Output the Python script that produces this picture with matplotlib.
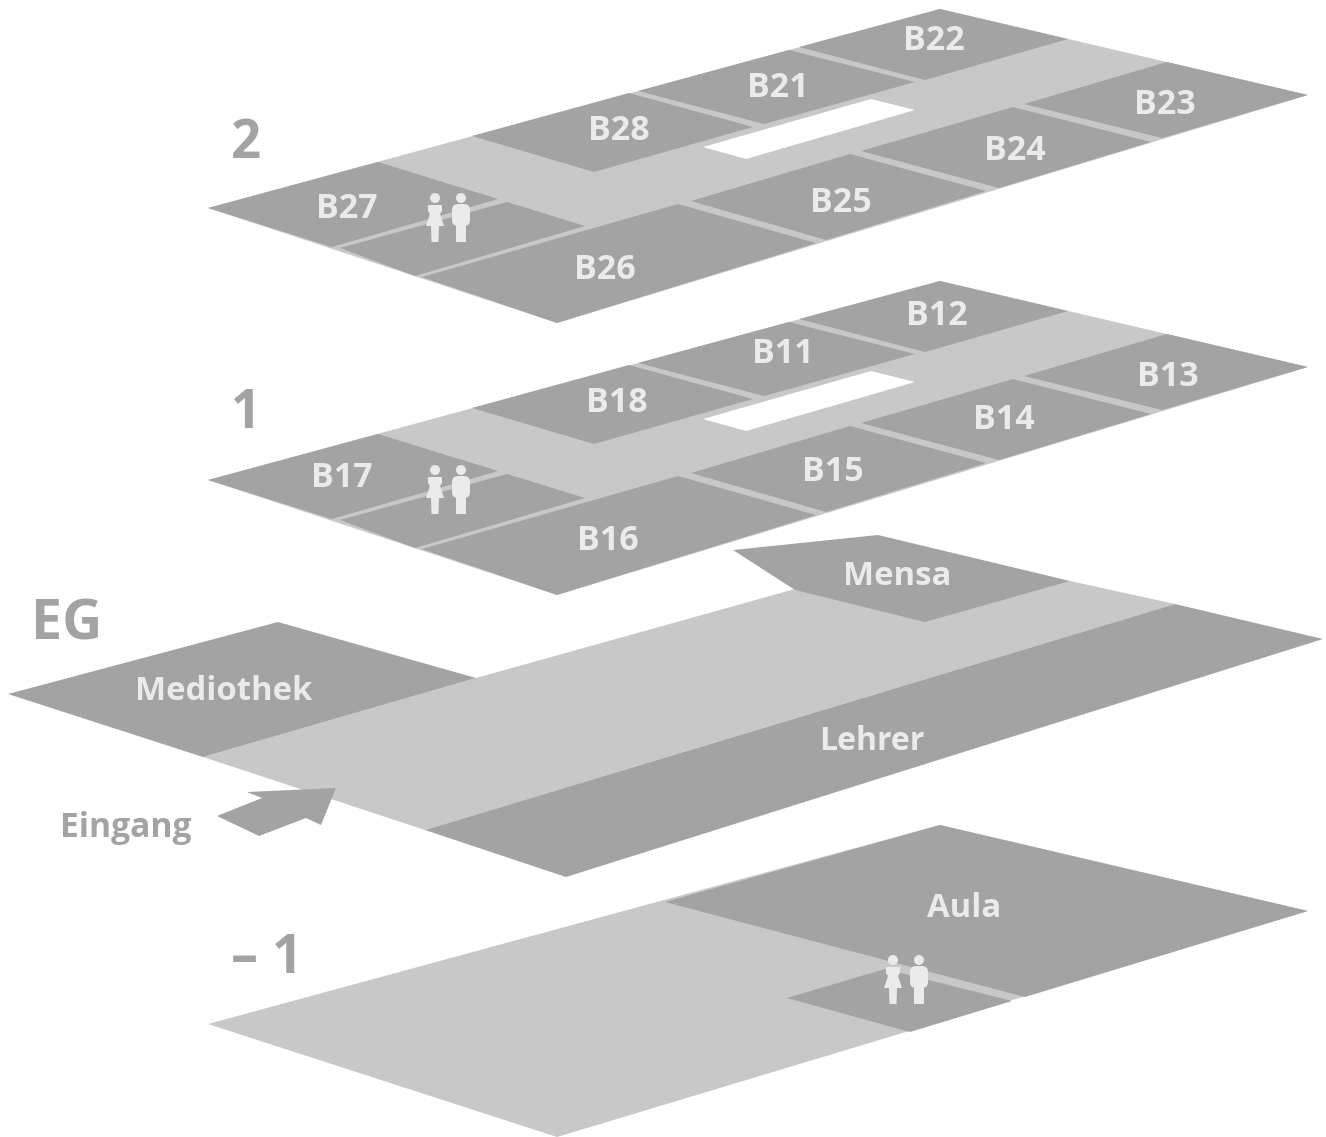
import matplotlib
matplotlib.use('Agg')
import matplotlib.pyplot as plt
from matplotlib.patches import Polygon, Circle, FancyBboxPatch

plt.rcParams['font.family'] = ['Open Sans', 'DejaVu Sans']

dark = '#a3a3a3'
light = '#c8c8c8'
pale = '#ebebeb'

# upper floors, pixel positions (floor 2, floor 1 is the same plan lower down)
outline_2 = [(208, 208), (940, 9), (1308, 95), (557, 323)]
hole_2 = [(703, 147), (871, 99), (915, 110), (746, 159)]
rooms_2 = [
    [(799, 47), (940, 9), (1068, 39), (925, 80)],          # B22
    [(638, 91), (789, 50), (915, 82), (764, 124)],         # B21
    [(472, 136), (629, 93), (753, 127), (594, 172)],       # B28
    [(1024, 104), (1167, 62), (1308, 95), (1162, 138)],    # B23
    [(861, 151), (1013, 107), (1151, 142), (999, 188)],    # B24
    [(691, 201), (850, 154), (986, 191), (826, 240)],      # B25
    [(422, 277), (678, 204), (816, 243), (557, 323)],      # B26
    [(208, 208), (378, 162), (498, 199), (332, 247)],      # B27
    [(340, 248), (507, 202), (585, 226), (415, 276)],      # WC
]
floor_1_shift = 272

# ground floor
outline_eg = [(203, 757), (476, 678), (795, 589), (1070, 581), (1175, 604), (425, 830)]
mediothek = [(8, 694), (278, 622), (476, 678), (203, 757)]
mensa = [(733, 550), (878, 535), (1070, 581), (925, 622), (795, 590)]
lehrer = [(425, 830), (1175, 604), (1323, 639), (566, 877)]
arrow = [(336, 788), (247, 792), (262, 798), (217, 816), (259, 836), (306, 818), (321, 825)]

# basement
outline_u1 = [(208, 1024), (940, 825), (1308, 911), (557, 1137)]
aula = [(665, 902), (940, 825), (1308, 911), (1025, 997)]
wc_u1 = [(787, 998), (885, 969), (1012, 1001), (910, 1032)]

# text, baseline positions
room_names = ['B22', 'B21', 'B28', 'B23', 'B24', 'B25', 'B26', 'B27',
              'B12', 'B11', 'B18', 'B13', 'B14', 'B15', 'B16', 'B17']
room_x = [934, 778, 619, 1165, 1015, 841, 605, 347,
          937, 783, 617, 1168, 1004, 833, 608, 342]
room_y = [50, 97, 140, 114, 160, 212, 279, 218,
          325, 363, 412, 386, 429, 481, 550, 487]
hall_names = ['Mensa', 'Mediothek', 'Lehrer', 'Aula']
hall_x = [897, 224, 872, 964]
hall_y = [585, 700, 750, 917]
hall_sizes = [23.7, 23.7, 23, 23.7]
floor_names = ['2', '1', 'EG', '\u2013 1']
floor_x = [246, 246, 67, 267]
floor_y = [158, 428, 640, 973]
floor_sizes = [38, 38, 40, 39]

# head position of the woman / man pairs
people_x = [435, 435, 893]
people_y = [198, 470, 960]


def poly(ax, pts, color, dy=0, z=1):
    ax.add_patch(Polygon([(x, y + dy) for x, y in pts], closed=True, fc=color, ec='none', lw=0, zorder=z))


def draw_people(ax, x, y):
    # woman
    ax.add_patch(Circle((x, y), 5, fc=pale, ec='none', zorder=5))
    poly(ax, [(x - 7, y + 7), (x + 7, y + 7), (x + 7, y + 13), (x + 5, y + 16), (x + 9, y + 28),
              (x + 4, y + 28), (x + 3.5, y + 44), (x - 3.5, y + 44), (x - 4, y + 28), (x - 9, y + 28),
              (x - 5, y + 16), (x - 7, y + 13)], pale, z=5)
    # man
    mx = x + 26
    ax.add_patch(Circle((mx, y), 5, fc=pale, ec='none', zorder=5))
    ax.add_patch(FancyBboxPatch((mx - 9, y + 6), 18, 22, boxstyle='round,pad=0,rounding_size=6',
                                fc=pale, ec='none', zorder=5))
    poly(ax, [(mx - 5, y + 25), (mx + 5, y + 25), (mx + 5, y + 44), (mx - 5, y + 44)], pale, z=5)


fig = plt.figure(figsize=(13.26, 11.37), dpi=100)
ax = fig.add_axes([0, 0, 1, 1])
ax.set_xlim(0, 1326)
ax.set_ylim(1137, 0)
ax.axis('off')

# floors 2 and 1
for dy in [0, floor_1_shift]:
    poly(ax, outline_2, light, dy)
    poly(ax, hole_2, 'white', dy, z=2)
    for r in rooms_2:
        poly(ax, r, dark, dy, z=3)

# EG
poly(ax, outline_eg, light)
for r in [mediothek, mensa, lehrer]:
    poly(ax, r, dark, z=3)
poly(ax, arrow, dark, z=4)

# -1
poly(ax, outline_u1, light)
poly(ax, aula, dark, z=3)
poly(ax, wc_u1, dark, z=3)

for px, py in zip(people_x, people_y):
    draw_people(ax, px, py)

for name, x, y in zip(room_names, room_x, room_y):
    ax.text(x, y, name, color=pale, fontsize=24.5, fontweight='bold', ha='center', va='baseline', zorder=6)
for name, x, y, s in zip(hall_names, hall_x, hall_y, hall_sizes):
    ax.text(x, y, name, color=pale, fontsize=s, fontweight='bold', ha='center', va='baseline', zorder=6)
for name, x, y, s in zip(floor_names, floor_x, floor_y, floor_sizes):
    ax.text(x, y, name, color=dark, fontsize=s, fontweight='bold', ha='center', va='baseline', zorder=6)
ax.text(126, 837, 'Eingang', color=dark, fontsize=24.2, fontweight='bold', ha='center', va='baseline', zorder=6)

fig.savefig('out.png', dpi=100, facecolor='white')
